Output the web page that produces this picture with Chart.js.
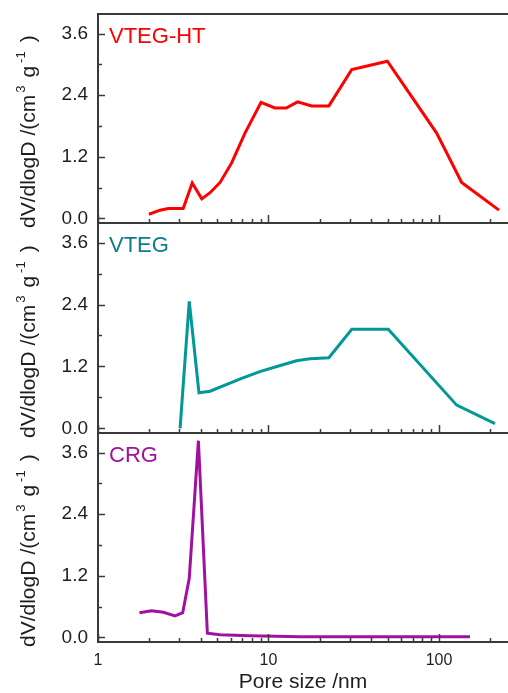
<!DOCTYPE html>
<html>
<head>
<meta charset="utf-8">
<script src="https://cdn.jsdelivr.net/npm/chart.js@4.4.0/dist/chart.umd.min.js"></script>
<style>
  html, body { margin: 0; padding: 0; background: #fff; }
  #wrap { position: relative; width: 508px; height: 693px; overflow: hidden; }
  #wrap canvas { position: absolute; left: 0; top: 0; }
</style>
</head>
<body>
<div id="wrap">
  <canvas id="panelHT" width="508" height="693"></canvas>
  <canvas id="panelVTEG" width="508" height="693"></canvas>
  <canvas id="panelCRG" width="508" height="693"></canvas>
</div>
<script>
/*global Chart*/

//----------------------------------------------------------------
/* values: pore size (nm) and dV/dlogD */
//----------------------------------------------------------------
var htSize = [1.99, 2.31, 2.58, 3.16, 3.57, 4.06, 4.54, 5.2, 6.08, 7.28, 9.04, 10.9, 12.7, 14.8, 17.9, 22.6, 30.8, 49.8, 96.9, 135.8, 224.8];
var htVol = [0.08, 0.16, 0.19, 0.19, 0.69, 0.38, 0.50, 0.70, 1.08, 1.66, 2.26, 2.15, 2.15, 2.27, 2.19, 2.19, 2.90, 3.06, 1.66, 0.70, 0.16];

var vtegSize = [3.03, 3.43, 3.91, 4.54, 6.96, 8.9, 11.2, 14.6, 17.5, 22.6, 30.8, 50.4, 127, 213];
var vtegVol = [0.0, 2.46, 0.69, 0.72, 0.97, 1.10, 1.20, 1.31, 1.35, 1.37, 1.92, 1.92, 0.45, 0.09];

var crgSize = [1.75, 2.06, 2.42, 2.83, 3.14, 3.43, 3.88, 4.38, 5.2, 7.8, 15.3, 50, 152];
var crgVol = [0.48, 0.52, 0.49, 0.42, 0.48, 1.15, 3.83, 0.08, 0.05, 0.03, 0.01, 0.01, 0.01];

var xTickValues = [1, 2, 3, 4, 5, 6, 7, 8, 9, 10, 20, 30, 40, 50, 60, 70, 80, 90, 100, 200];
var xLabelValues = [1, 10, 100];
var yTickValues = [0, 0.6, 1.2, 1.8, 2.4, 3.0, 3.6];
var yLabelValues = [0, 1.2, 2.4, 3.6];

var axisColor = '#3a3a3a';
var textColor = '#1e1e1e';
var fontFamily = '"Liberation Sans", Arial, sans-serif';

//----------------------------------------------------------------
/* inward tick marks, panel name, top frame, rotated y title */
//----------------------------------------------------------------
var panelDecor = {
    id: 'panelDecor',
    afterDraw: function (chart, args, opts) {
        var ctx = chart.ctx, a = chart.chartArea;
        var xs = chart.scales.x, ys = chart.scales.y;
        ctx.save();
        ctx.strokeStyle = axisColor;
        ctx.lineWidth = 1.5;
        ctx.beginPath();
        xTickValues.forEach(function (v) {
            var px = Math.round(xs.getPixelForValue(v)) + 0.5;
            var len = xLabelValues.indexOf(v) >= 0 ? 8 : 4;
            ctx.moveTo(px, a.bottom);
            ctx.lineTo(px, a.bottom - len);
        });
        yTickValues.forEach(function (v) {
            var py = Math.round(ys.getPixelForValue(v)) + 0.5;
            var len = yLabelValues.indexOf(v) >= 0 ? 7 : 4;
            ctx.moveTo(a.left, py);
            ctx.lineTo(a.left + len, py);
        });
        ctx.stroke();

        if (opts.topFrame) {
            ctx.lineWidth = 2;
            ctx.beginPath();
            ctx.moveTo(a.left, a.top);
            ctx.lineTo(a.right, a.top);
            ctx.stroke();
        }

        // sample name in the upper left corner
        ctx.fillStyle = opts.nameColor;
        ctx.font = '22px ' + fontFamily;
        ctx.textAlign = 'left';
        ctx.textBaseline = 'alphabetic';
        ctx.fillText(opts.name, a.left + 11, a.top + 29);

        // y title with superscripts, reading bottom to top
        var parts = [['dV/dlogD', false, 6], ['/(cm', false, 2], ['3', true, 8], ['g', false, 3], ['-1', true, 9], [')', false, 0]];
        ctx.translate(35, a.bottom + 5);
        ctx.rotate(-Math.PI / 2);
        ctx.fillStyle = textColor;
        var pos = 0;
        parts.forEach(function (p) {
            ctx.font = (p[1] ? '13px ' : '21px ') + fontFamily;
            ctx.fillText(p[0], pos, p[1] ? -10 : 0);
            pos += ctx.measureText(p[0]).width + p[2];
        });
        ctx.restore();
    }
};

function toPoints(xs, ys) {
    return xs.map(function (x, i) { return {x: x, y: ys[i]}; });
}

function makePanel(id, xs, ys, name, lineColor, nameColor, top, bottom, isLast) {
    var xh = isLast ? 51 : 1;
    var ctx = document.getElementById(id).getContext('2d');
    return new Chart(ctx, {
        type: 'line',
        data: {
            datasets: [{
                label: name,
                data: toPoints(xs, ys),
                borderColor: lineColor,
                borderWidth: 3,
                pointRadius: 0,
                tension: 0,
                fill: false
            }]
        },
        options: {
            responsive: false,
            animation: false,
            layout: { padding: { left: 0, right: 0, top: top, bottom: 693 - bottom - xh } },
            plugins: {
                legend: { display: false },
                tooltip: { enabled: false },
                panelDecor: { name: name, nameColor: nameColor, topFrame: top < 20 }
            },
            scales: {
                x: {
                    type: 'logarithmic',
                    min: 1,
                    max: 254,
                    grid: { display: false, drawTicks: false },
                    border: { color: axisColor, width: 2 },
                    afterBuildTicks: function (s) {
                        s.ticks = xTickValues.map(function (v) { return {value: v}; });
                    },
                    afterFit: function (s) {
                        s.height = xh;
                        s.paddingLeft = 0;
                        s.paddingRight = 0;
                    },
                    ticks: {
                        display: isLast,
                        padding: 9,
                        color: textColor,
                        maxRotation: 0,
                        autoSkip: false,
                        font: { family: fontFamily, size: 16 },
                        callback: function (v) { return xLabelValues.indexOf(v) >= 0 ? String(v) : ''; }
                    },
                    title: {
                        display: isLast,
                        text: 'Pore size /nm',
                        color: textColor,
                        padding: 0,
                        font: { family: fontFamily, size: 21, lineHeight: 1 }
                    }
                },
                y: {
                    min: -0.09,
                    max: 3.98,
                    grid: { display: false, drawTicks: false },
                    border: { color: axisColor, width: 2 },
                    afterBuildTicks: function (s) {
                        s.ticks = yTickValues.map(function (v) { return {value: v}; });
                    },
                    afterFit: function (s) {
                        s.width = 98;
                        s.paddingTop = 0;
                        s.paddingBottom = 0;
                    },
                    ticks: {
                        padding: 10,
                        color: textColor,
                        autoSkip: false,
                        font: { family: fontFamily, size: 19 },
                        callback: function (v) { return yLabelValues.indexOf(v) >= 0 ? v.toFixed(1) : ''; }
                    }
                }
            }
        },
        plugins: [panelDecor]
    });
}

//----------------------------------------------------------------
/* three stacked panels sharing one log axis */
//----------------------------------------------------------------
makePanel('panelHT', htSize, htVol, 'VTEG-HT', '#ff0000', '#ff0000', 14, 223, false);
makePanel('panelVTEG', vtegSize, vtegVol, 'VTEG', '#019898', '#0b7d8c', 223, 433, false);
makePanel('panelCRG', crgSize, crgVol, 'CRG', '#a0129e', '#a0129e', 433, 642, true);
</script>
</body>
</html>
